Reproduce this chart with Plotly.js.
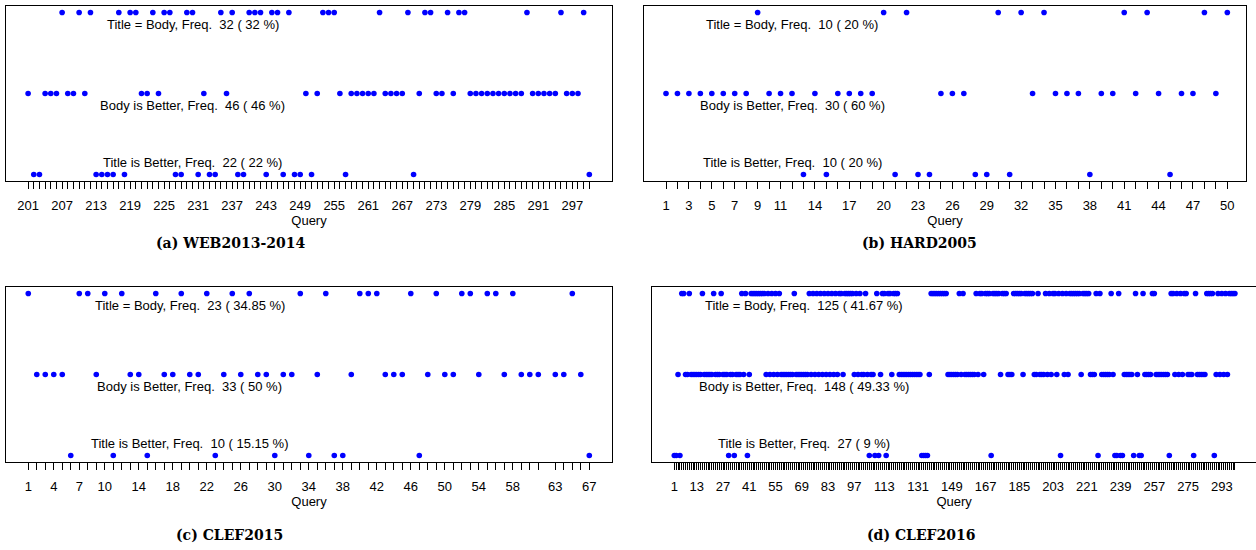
<!DOCTYPE html>
<html>
<head>
<meta charset="utf-8">
<script src="https://cdn.plot.ly/plotly-3.0.1.min.js"></script>
<style>
  html, body { margin: 0; padding: 0; background: #ffffff; overflow: hidden; }
  #chart { width: 1256px; height: 550px; }
</style>
</head>
<body>
<div id="chart"></div>
<script>
// ---------------- DATA ----------------
// Row levels: 3 = Title = Body, 2 = Body is Better, 1 = Title is Better
const rowNames = ["Title = Body", "Body is Better", "Title is Better"];
const rowLevels = [3, 2, 1];

// (a) WEB2013-2014
const webTitleEqual = [207,210,212,217,219,220,223,225,226,229,230,235,237,240,241,242,244,245,247,253,254,255,263,268,271,272,275,277,278,289,295,299];
const webBodyBetter = [201,204,205,206,208,209,211,221,222,224,232,236,250,252,256,258,259,260,261,262,264,265,266,267,270,273,274,276,279,280,281,282,283,284,285,286,287,288,290,291,292,293,294,296,297,298];
const webTitleBetter = [202,203,213,214,215,216,218,227,228,231,233,234,238,239,243,246,248,249,251,257,269,300];
const webTickLabels = [201,207,213,219,225,231,237,243,249,255,261,267,273,279,285,291,297];

// (b) HARD2005
const hardTitleEqual = [9,20,22,30,32,34,41,43,48,50];
const hardBodyBetter = [1,2,3,4,5,6,7,8,10,11,12,14,16,17,18,19,25,26,27,33,35,36,37,39,40,42,44,46,47,49];
const hardTitleBetter = [13,15,21,23,24,28,29,31,38,45];
const hardTickLabels = [1,3,5,7,9,11,14,17,20,23,26,29,32,35,38,41,44,47,50];

// (c) CLEF2015
const clef15TitleEqual = [1,7,8,10,12,16,19,22,25,27,33,36,40,41,42,46,49,52,53,55,56,58,65];
const clef15BodyBetter = [2,3,4,5,9,13,14,17,18,20,21,24,26,28,29,31,32,35,39,43,44,45,48,50,51,54,57,59,60,61,63,64,66];
const clef15TitleBetter = [6,11,15,23,30,34,37,38,47,67];
const clef15TickLabels = [1,4,7,10,14,18,22,26,30,34,38,42,46,50,54,58,63,67];

// (d) CLEF2016
const clef16TitleEqual = [5,6,9,16,22,26,37,39,42,43,44,45,46,47,48,49,51,53,55,57,65,73,75,77,79,81,83,85,87,89,90,92,93,94,95,96,98,100,103,109,112,113,115,116,118,119,120,138,139,140,141,142,143,144,145,146,153,155,162,164,165,167,168,169,171,172,173,174,176,177,178,182,183,184,185,186,188,189,190,191,192,195,199,201,203,204,206,208,210,212,213,214,215,216,217,219,220,221,222,226,228,234,238,247,251,256,257,266,267,269,271,273,274,279,285,286,287,288,291,293,295,297,298,299,300];
const clef16BodyBetter = [3,7,8,10,11,12,13,14,15,17,18,19,20,21,23,24,25,27,28,29,31,32,34,35,36,38,41,50,52,54,56,58,59,60,61,62,63,64,66,67,68,69,70,71,72,74,76,78,80,82,84,86,88,91,97,99,101,102,104,106,107,111,117,121,122,123,124,125,126,127,128,129,130,131,132,137,147,148,149,150,151,152,154,156,157,158,159,160,161,163,166,175,179,180,181,187,193,194,196,197,198,200,202,205,209,211,218,223,224,225,229,230,231,232,233,235,241,242,243,244,245,248,252,253,254,255,258,259,260,261,262,263,264,268,270,272,275,276,277,280,281,282,283,284,290,292,294,296];
const clef16TitleBetter = [1,2,4,30,33,40,105,108,110,114,133,134,135,136,170,207,227,236,237,239,240,246,249,250,265,278,289];
const clef16TickLabels = [1,13,27,41,55,69,83,97,113,131,149,167,185,203,221,239,257,275,293];

const captions = ["(a) WEB2013-2014", "(b) HARD2005", "(c) CLEF2015", "(d) CLEF2016"];

// ---------------- LAYOUT / STYLE ----------------
const W = 1256, H = 550;
const panels = [
  { rows: [webTitleEqual, webBodyBetter, webTitleBetter], labels: webTickLabels,
    box: [6, 612, 6, 181], range: [197.1, 304.0], textX: 230, caption: [231, 243], rightLine: true },
  { rows: [hardTitleEqual, hardBodyBetter, hardTitleBetter], labels: hardTickLabels,
    box: [644, 1246, 6, 181], range: [-0.92, 51.63], textX: 12, caption: [920, 243], rightLine: true },
  { rows: [clef15TitleEqual, clef15BodyBetter, clef15TitleBetter], labels: clef15TickLabels,
    box: [6, 612, 287, 462], range: [-1.62, 69.67], textX: 20, caption: [230, 535], rightLine: true },
  { rows: [clef16TitleEqual, clef16BodyBetter, clef16TitleBetter], labels: clef16TickLabels,
    box: [652.3, 1256, 287, 462], range: [-10.73, 311.24], textX: 70.3, caption: [921, 535], rightLine: false }
];
const textY = [2.855, 1.855, 1.15];
const sans = "Liberation Sans, Arial, Helvetica, sans-serif";
const NB = "\u00A0";

const traces = [];
const layout = {
  width: W, height: H,
  margin: { l: 0, r: 0, t: 0, b: 0 },
  paper_bgcolor: "#ffffff", plot_bgcolor: "#ffffff",
  showlegend: false,
  annotations: [],
  font: { family: sans, size: 13, color: "#000000" }
};

panels.forEach((p, i) => {
  const n = i + 1;
  const xa = n === 1 ? "x" : "x" + n;
  const ya = n === 1 ? "y" : "y" + n;
  const total = p.rows.reduce((s, r) => s + r.length, 0);
  const allQ = [].concat(...p.rows).sort((a, b) => a - b);

  p.rows.forEach((r, k) => {
    traces.push({
      type: "scatter", mode: "markers",
      x: r, y: r.map(() => rowLevels[k]),
      xaxis: xa, yaxis: ya,
      marker: { color: "#0000FF", size: 5.6, line: { width: 0 } },
      hoverinfo: "x", showlegend: false
    });
    const pct = Math.round(r.length / total * 10000) / 100;
    layout.annotations.push({
      xref: xa, yref: ya, x: p.textX, y: textY[k],
      text: rowNames[k] + ", Freq." + NB + NB + r.length + " (" + NB + pct + " %)",
      showarrow: false, xanchor: "center", yanchor: "middle",
      font: { family: sans, size: 13, color: "#000000" }
    });
  });

  const [x0, x1, y0, y1] = p.box;
  layout[n === 1 ? "xaxis" : "xaxis" + n] = {
    domain: [x0 / W, x1 / W],
    range: p.range,
    anchor: ya,
    tickmode: "array",
    tickvals: allQ,
    ticktext: allQ.map(q => p.labels.includes(q) ? String(q) : ""),
    ticks: "outside", ticklen: 7, tickwidth: 1, tickcolor: "#000000",
    tickangle: 0,
    ticklabelstandoff: 5,
    tickfont: { family: sans, size: 13, color: "#000000" },
    showline: true, linecolor: "#000000", linewidth: 1, mirror: true,
    showgrid: false, zeroline: false, fixedrange: true,
    title: { text: "Query", font: { family: sans, size: 13, color: "#000000" }, standoff: 3 }
  };
  layout[n === 1 ? "yaxis" : "yaxis" + n] = {
    domain: [1 - y1 / H, 1 - y0 / H],
    range: [0.92, 3.08],
    anchor: xa,
    showticklabels: false, ticks: "",
    showline: true, linecolor: "#000000", linewidth: 1, mirror: p.rightLine,
    showgrid: false, zeroline: false, fixedrange: true
  };

  layout.annotations.push({
    xref: "paper", yref: "paper",
    x: p.caption[0] / W, y: 1 - p.caption[1] / H,
    text: "<b>" + captions[i] + "</b>",
    showarrow: false, xanchor: "center", yanchor: "middle",
    font: { family: "DejaVu Serif, serif", size: 14, color: "#000000" }
  });
});

Plotly.newPlot("chart", traces, layout, { displayModeBar: false, staticPlot: true });
</script>
</body>
</html>
